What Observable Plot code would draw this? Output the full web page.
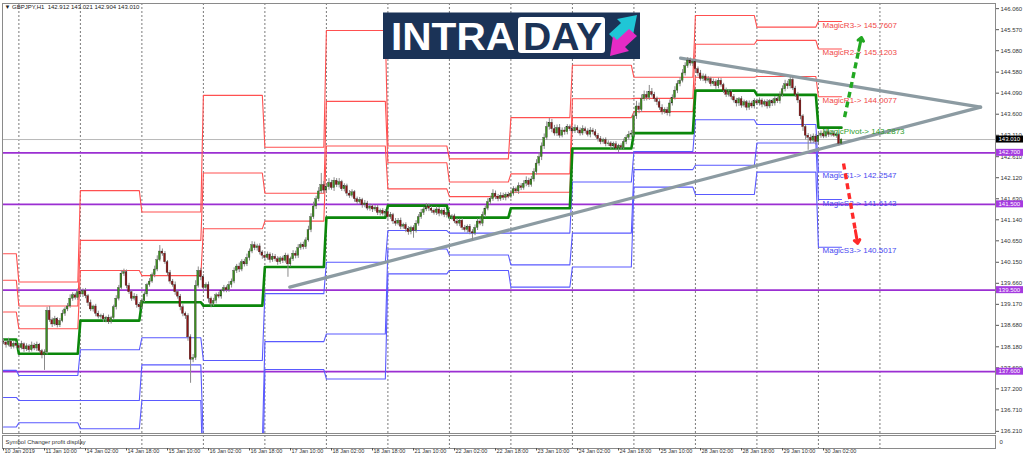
<!DOCTYPE html>
<html><head><meta charset="utf-8">
<script src="https://cdn.jsdelivr.net/npm/d3@7"></script>
<script src="https://cdn.jsdelivr.net/npm/@observablehq/plot@0.6"></script>
<style>
body{margin:0;background:#fff;}
#wrap{position:relative;width:1024px;height:459px;overflow:hidden;font-family:"Liberation Sans",Arial,sans-serif;}
#main{position:absolute;left:0;top:0;}
#sub{position:absolute;left:0;top:434px;}
</style></head><body><div id="wrap"><div id="main"></div><div id="sub"></div></div>
<script>
// ---------- DATA ----------
const symbol = "GBPJPY,H1";
const lastOHLC = [142.912, 143.021, 142.904, 143.010];
const firstOpen = 138.30;
const closes = [
// 10 Jan
138.28,138.22,138.30,138.18,138.25,138.20,
// 11 Jan
138.15,138.24,138.12,138.19,138.10,138.21,138.14,138.23,138.08,137.98,138.05,139.02,
138.80,138.70,138.82,138.68,138.78,138.95,139.05,139.12,139.30,139.38,139.32,139.45,
// 14 Jan
139.40,139.48,139.36,139.20,139.05,139.12,138.95,138.88,138.90,138.82,138.86,138.76,
138.85,139.10,139.30,139.55,139.88,139.92,139.60,139.45,139.30,139.35,139.15,139.10,
// 15 Jan
139.25,139.40,139.62,139.70,139.85,139.98,140.20,140.40,140.35,140.15,139.90,139.70,
139.62,139.45,139.35,139.10,138.95,138.90,138.40,137.88,137.92,139.60,139.95,139.80,
// 16 Jan
139.55,139.62,139.30,139.18,139.25,139.38,139.35,139.48,139.55,139.50,139.62,139.70,
139.95,140.05,139.98,140.15,140.10,140.25,140.40,140.55,140.48,140.52,140.38,140.30,
// 17 Jan
140.25,140.33,140.20,140.28,140.22,140.15,140.24,140.18,140.30,140.10,140.22,140.35,
140.30,140.48,140.55,140.50,140.66,140.90,141.20,141.45,141.62,141.80,141.95,141.82,
// 18 Jan
141.90,142.00,141.88,142.05,141.95,142.02,141.85,141.92,141.75,141.70,141.78,141.62,
141.55,141.60,141.48,141.52,141.40,141.45,141.38,141.42,141.30,141.35,141.28,141.32,
// 21 Jan
141.20,141.25,141.10,141.05,141.12,140.98,141.02,140.92,140.85,140.95,140.88,141.05,
141.20,141.30,141.38,141.45,141.40,141.35,141.30,141.38,141.28,141.35,141.25,141.30,
// 22 Jan
141.20,141.22,141.10,141.05,141.12,140.95,140.90,140.98,140.85,140.82,140.95,141.10,
141.05,141.25,141.40,141.55,141.62,141.75,141.68,141.62,141.70,141.65,141.72,141.68,
// 23 Jan
141.75,141.85,141.80,141.92,141.88,141.98,142.05,141.95,142.08,142.25,142.45,142.60,
142.85,143.05,143.30,143.40,143.25,143.15,143.28,143.10,143.22,143.18,143.30,143.25,
// 24 Jan
143.20,143.28,143.22,143.15,143.25,143.20,143.12,143.22,143.18,143.10,143.02,142.95,
143.00,142.90,142.92,142.85,142.90,142.80,142.86,142.82,142.95,143.05,143.12,143.15,
// 25 Jan
143.55,143.78,143.70,143.95,144.05,143.98,144.12,144.05,143.95,143.88,143.75,143.65,
143.70,143.62,143.85,143.98,144.15,144.30,144.38,144.55,144.72,144.85,144.78,144.82,
// 28 Jan
144.65,144.55,144.42,144.48,144.38,144.42,144.30,144.35,144.25,144.38,144.28,144.15,
144.05,144.12,144.00,143.92,143.85,143.95,143.80,143.88,143.75,143.85,143.78,143.90,
// 29 Jan
143.85,143.92,143.82,143.88,143.78,143.90,143.85,143.95,143.90,144.05,144.18,144.30,
144.25,144.40,144.20,144.05,143.92,143.55,143.30,143.10,143.05,142.98,143.08,142.95,
// 30 Jan
143.10,143.15,143.08,143.18,143.12,143.15,143.10,143.12,142.91,143.01
];
// wicks in pips (0.01)
const wickUp = [
6,4,8,3,5,4,
5,7,3,6,4,8,5,6,3,4,6,8,10,5,7,4,6,8,5,7,9,6,5,8,
8,5,6,4,7,3,5,6,4,5,3,6,4,5,7,6,8,7,5,6,4,7,5,6,
5,6,4,7,5,8,10,14,6,5,4,6,5,7,4,5,6,4,5,6,8,12,9,6,
6,5,7,4,6,5,7,4,6,5,8,6,7,5,8,6,7,9,6,8,7,5,6,4,
5,6,4,7,5,6,4,5,6,4,5,7,6,8,5,7,6,9,8,10,7,9,27,8,
8,10,6,7,5,8,4,6,5,7,6,4,5,6,4,7,5,6,4,5,6,4,5,6,
5,6,4,7,5,6,4,5,6,4,5,7,6,8,5,7,6,5,4,6,5,4,6,5,
6,4,5,7,4,5,6,4,5,6,7,6,8,7,6,8,7,9,6,5,7,6,5,6,
7,6,5,8,6,7,9,6,7,8,9,10,8,9,12,10,8,9,7,8,6,7,6,5,
6,7,5,6,8,5,6,7,5,6,5,6,4,5,6,4,5,6,4,5,7,6,8,7,
9,12,8,10,9,8,15,8,6,5,6,7,5,6,8,7,9,8,7,9,8,7,6,5,
6,5,7,6,5,6,4,7,5,6,5,4,6,5,4,6,5,4,6,5,4,6,5,6,
5,6,4,5,6,4,5,6,5,7,8,9,7,6,6,5,6,5,4,6,5,7,6,5,
5,6,4,7,5,4,6,5,4,1
];
const wickDn = [
5,7,4,6,5,6,
6,4,7,5,6,4,5,7,6,8,35,6,5,7,4,6,5,4,6,5,4,6,5,6,
5,7,6,8,5,6,7,5,6,7,8,6,5,4,6,5,4,6,7,5,6,5,7,6,
5,4,6,5,4,6,5,4,6,5,7,6,5,7,6,8,7,8,9,55,7,6,5,8,
8,7,10,9,6,7,5,6,4,6,5,7,5,6,7,5,6,5,7,5,6,7,6,8,
6,5,7,5,6,7,5,6,5,30,6,5,7,6,5,6,5,4,6,5,7,6,5,7,
6,7,5,8,6,7,5,6,7,6,5,7,6,5,7,6,5,6,7,5,6,7,5,6,
6,5,7,6,5,7,6,8,7,6,17,5,6,5,6,5,7,6,5,6,7,5,6,7,
6,7,5,6,7,6,5,7,6,16,5,6,5,7,6,5,6,5,7,6,5,6,7,5,
5,6,5,7,6,5,7,6,5,6,7,6,8,7,6,7,8,6,7,6,5,7,6,5,
6,5,7,6,5,6,5,7,6,5,7,6,5,6,5,7,6,5,9,6,5,6,5,7,
8,7,9,6,5,7,6,5,7,8,6,7,5,6,8,6,5,7,6,5,6,5,6,7,
6,7,5,6,7,5,6,5,7,6,5,7,6,5,7,6,8,7,6,5,7,6,5,6,
5,6,7,5,6,5,7,6,5,6,5,6,7,6,5,6,7,8,10,10,29,7,6,7,
5,6,5,4,6,5,4,6,5,1
];
// daily pivot levels (one value per trading day)
const dayStart = [0,6,30,54,78,102,126,150,174,198,222,246,270,294,318];
const lastBar = 327;
const R3 = [140.35,139.69,141.82,141.32,144.04,142.83,145.55,142.86,142.56,143.52,144.74,144.46,145.90,145.63,145.7607];
const R2 = [139.73,139.13,140.66,140.66,142.23,141.76,143.90,142.47,142.02,142.21,143.96,143.97,145.23,145.32,145.1203];
const R1 = [138.99,138.60,139.96,139.84,140.93,141.11,142.86,141.86,141.68,141.78,143.52,143.66,144.46,144.48,144.0077];
const PV = [138.35,138.02,138.79,139.22,139.14,140.04,141.19,141.47,141.19,141.41,142.80,143.16,144.15,144.05,143.2873];
const S1 = [137.63,137.51,138.11,138.39,137.86,139.42,140.15,140.89,140.83,140.83,142.02,142.73,143.47,143.36,142.2547];
const S2 = [137.00,136.93,136.93,137.76,135.90,138.30,138.48,140.46,140.32,140.09,140.83,142.31,142.41,142.93,141.6143];
const S3 = [136.31,136.41,136.27,136.93,134.60,137.65,137.43,139.88,139.96,139.57,140.04,141.90,141.73,142.25,140.5017];
const magicNames = ["MagicR3","MagicR2","MagicR1","MagicPivot","MagicS1","MagicS2","MagicS3"];
const magicValues = [145.7607,145.1203,144.0077,143.2873,142.2547,141.6143,140.5017];
const levelLines = [142.700,141.500,139.500,137.600];
const bidPrice = 143.010;
const yTicks = [146.060,145.570,145.080,144.580,144.090,143.600,143.110,142.610,142.120,141.630,141.140,140.650,140.150,139.660,139.170,138.680,138.180,137.690,137.200,136.710,136.210];
const xLabels = ["10 Jan 2019","11 Jan 10:00","14 Jan 02:00","14 Jan 18:00","15 Jan 10:00","16 Jan 02:00","16 Jan 18:00","17 Jan 10:00","18 Jan 02:00","18 Jan 18:00","21 Jan 10:00","22 Jan 02:00","22 Jan 18:00","23 Jan 10:00","24 Jan 02:00","24 Jan 18:00","25 Jan 10:00","28 Jan 02:00","28 Jan 18:00","29 Jan 10:00","30 Jan 02:00"];
const labelBars = [0,16,32,48,64,80,96,112,128,144,160,176,192,208,224,240,256,272,288,304,320];
const gridBars = [6,30,54,78,102,126,150,174,198,222,246,270,294,318,342];
const trendLower = [{bar:111.7, price:139.57},{bar:381.3, price:143.765}];
const trendUpper = [{bar:264.2, price:144.907},{bar:381.3, price:143.765}];
const arrowsData = [
  {x1:328.2, y1:143.53, x2:334.8, y2:145.39, color:"#22a822"},
  {x1:327.8, y1:142.45, x2:333.3, y2:140.59, color:"#ff2a2a"}
];
const subTitle = "Symbol Changer profit display";
const logoWords = ["INTRA", "DAY"];

// ---------- BUILD ----------
const xDomain = [-0.39, 387.1];
const FONT = "'Liberation Sans', Arial, sans-serif";
const bars = closes.map((c,i) => {
  const o = i === 0 ? firstOpen : closes[i-1];
  return {i, o, c, h: Math.max(o,c) + wickUp[i]/100, l: Math.min(o,c) - wickDn[i]/100, up: c >= o};
});
const seriesDefs = [["R3",R3],["R2",R2],["R1",R1],["P",PV],["S1",S1],["S2",S2],["S3",S3]];
const pivotPts = [];
for (const [name, vals] of seriesDefs) {
  dayStart.forEach((s,d) => {
    const e = d+1 < dayStart.length ? dayStart[d+1]-1 : lastBar;
    pivotPts.push({name, bar:s, v:vals[d]}, {name, bar:e, v:vals[d]});
  });
}
const redPts = pivotPts.filter(p => p.name[0] === "R");
const bluePts = pivotPts.filter(p => p.name[0] === "S");
const greenPts = pivotPts.filter(p => p.name === "P");
const magic = magicNames.map((n,i) => ({n, v: magicValues[i], label: n + "-> " + magicValues[i].toFixed(4),
  color: n.includes("Pivot") ? "#2e9e2e" : (n.includes("R") ? "#f04848" : "#4848f0")}));
const arrows = arrowsData.map(a => ({...a,
  hx: a.x2 - (a.x2-a.x1)*0.16, hy: a.y2 - (a.y2-a.y1)*0.16}));
const trend = [...trendLower.map(d=>({...d,k:"lo"})), ...trendUpper.map(d=>({...d,k:"up"}))];

const main = Plot.plot({
  width: 1024, height: 434,
  marginTop: 3, marginBottom: 1, marginLeft: 2, marginRight: 29,
  style: {fontFamily: FONT, fontSize: "6px", background: "#fff", overflow: "visible"},
  x: {domain: xDomain, axis: null},
  y: {domain: [136.16, 146.18], label: null},
  marks: [
    Plot.ruleX(gridBars, {stroke: "#7a7a7a", strokeDasharray: "2,2", strokeWidth: 1}),
    Plot.ruleY([bidPrice], {stroke: "#b8b8b8", strokeWidth: 1}),
    Plot.ruleY(levelLines, {stroke: "#9b2fd2", strokeWidth: 1.8}),
    Plot.line(redPts, {x: "bar", y: "v", z: "name", stroke: "#ff5050", strokeWidth: 1.1, clip: true}),
    Plot.line(bluePts, {x: "bar", y: "v", z: "name", stroke: "#5a5aff", strokeWidth: 1.1, clip: true}),
    Plot.line(greenPts, {x: "bar", y: "v", stroke: "#0b870b", strokeWidth: 2.6, clip: true}),
    Plot.line(trend, {x: "bar", y: "price", z: "k", stroke: "#8c9ba2", strokeWidth: 3.2}),
    Plot.ruleX(bars, {x: "i", y1: "l", y2: "h", stroke: "#8a8a8a", strokeWidth: 1}),
    Plot.rect(bars, {x1: d => d.i - 0.36, x2: d => d.i + 0.36, y1: "o", y2: d => d.c === d.o ? d.c + 0.01 : d.c,
      fill: d => d.up ? "#3d8f1f" : "#8c1414", stroke: "#2a2a2a", strokeWidth: 0.3}),
    Plot.text(magic, {x: 319.6, y: "v", text: "label", fill: "color", fontSize: 8, textAnchor: "start",
      lineAnchor: "top", dy: 0.5}),
    Plot.link(arrows, {x1: "x1", y1: "y1", x2: "hx", y2: "hy", stroke: "color", strokeWidth: 3.4, strokeDasharray: "6,4"}),
    Plot.arrow(arrows, {x1: "hx", y1: "hy", x2: "x2", y2: "y2", stroke: "color", strokeWidth: 3, headLength: 9, headAngle: 80}),
    Plot.frame({stroke: "#8a8a8a"}),
    Plot.axisY(yTicks, {anchor: "right", tickSize: 3, tickPadding: 2, tickFormat: d => d.toFixed(3), fontSize: 6, fill: "#333", stroke: "#555"}),
    Plot.text([`\u25BC ${symbol}  ${lastOHLC.map(v=>v.toFixed(3)).join(" ")}`], {frameAnchor: "top-left", dx: 2, dy: 1.5, fontSize: 6, fill: "#222", lineAnchor: "top"})
  ]
});
document.getElementById("main").appendChild(main);

// price boxes on the right scale (positioned through the plot's y scale)
const ys = main.scale("y");
const svg = d3.select(main);
const boxes = [...levelLines.map(v => ({v, fill: "#a53be0"})), {v: bidPrice, fill: "#000"}];
const bg = svg.append("g").attr("font-family", FONT).attr("font-size", 6).attr("text-anchor", "start");
for (const b of boxes) {
  const y = ys.apply(b.v);
  bg.append("rect").attr("x", 996).attr("y", y - 3.5).attr("width", 27).attr("height", 7).attr("fill", b.fill);
  bg.append("text").attr("x", 998.5).attr("y", y).attr("dy", "0.35em").attr("fill", "#fff").text(b.v.toFixed(3));
}

// INTRADAY logo overlay
const lg = svg.append("g").attr("text-anchor", "start");
lg.append("rect").attr("x", 383).attr("y", 12.5).attr("width", 257).attr("height", 46.5).attr("fill", "#1b3357");
lg.append("text").attr("x", 391).attr("y", 49.5).attr("font-family", FONT).attr("font-weight", "bold")
  .attr("font-size", 39).attr("fill", "#fff").attr("textLength", 124).attr("lengthAdjust", "spacingAndGlyphs").text(logoWords[0]);
lg.append("rect").attr("x", 518).attr("y", 17).attr("width", 87).attr("height", 36).attr("rx", 3).attr("fill", "#fff");
lg.append("text").attr("x", 523).attr("y", 49.5).attr("font-family", FONT).attr("font-weight", "bold")
  .attr("font-size", 39).attr("fill", "#1b3357").attr("textLength", 79).attr("lengthAdjust", "spacingAndGlyphs").text(logoWords[1]);
lg.append("polygon").attr("points", "609,34 621,23 617,19 637,15 633,35 629,31 617,42").attr("fill", "#1fc6d6");
lg.append("polygon").attr("points", "637,36 625,47 629,51 610,56 613,36 617,40 629,29").attr("fill", "#e52bc4");

// ---------- sub window + time axis ----------
const sub = Plot.plot({
  width: 1024, height: 25,
  marginTop: 1, marginBottom: 11, marginLeft: 2, marginRight: 29,
  style: {fontFamily: FONT, fontSize: "5.5px", background: "transparent", overflow: "visible"},
  x: {domain: xDomain, label: null},
  y: {domain: [0, 1], axis: null},
  marks: [
    Plot.ruleX(gridBars, {stroke: "#7a7a7a", strokeDasharray: "2,2", strokeWidth: 1}),
    Plot.frame({stroke: "#8a8a8a"}),
    Plot.axisX(labelBars, {tickSize: 2.5, tickFormat: () => "", stroke: "#555", label: null}),
    Plot.text(labelBars, {x: d => d, text: (d, i) => xLabels[i], frameAnchor: "bottom", lineAnchor: "top",
      textAnchor: "start", dx: 1, dy: 0.5, fontSize: 5.5, fill: "#333"}),
    Plot.text([subTitle], {frameAnchor: "left", dx: 3, fontSize: 6, fill: "#333", textAnchor: "start"}),
    Plot.text(["0"], {frameAnchor: "right", dx: 4, fontSize: 6, fill: "#333", textAnchor: "start"})
  ]
});
document.getElementById("sub").appendChild(sub);
</script>
</body></html>
